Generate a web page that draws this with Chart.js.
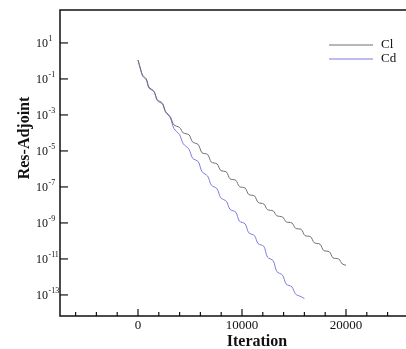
<!DOCTYPE html>
<html>
<head>
<meta charset="utf-8">
<script src="https://cdn.jsdelivr.net/npm/chart.js@4"></script>
<style>
  html, body { margin: 0; padding: 0; background: #fff; }
  canvas { display: block; }
</style>
</head>
<body>
<canvas id="myChart" width="406" height="349"></canvas>
<script>
// iterations and log10(residual)
var clIter = [0, 250, 450, 800, 1050, 1550, 1850, 2350, 2650, 3100, 3450, 4000, 4350, 4900, 5250, 5800,
  6150, 6700, 7050, 7600, 7950, 8500, 8850, 9400, 9750, 10300, 10650, 11200, 11550, 12100, 12450, 13000,
  13350, 13900, 14250, 14800, 15150, 15700, 16050, 16600, 16950, 17500, 17850, 18400, 18750, 19300, 19650, 20000];
var clLog = [0.05, -0.45, -0.8, -1.0, -1.45, -1.7, -2.15, -2.35, -2.8, -3.1, -3.55, -3.7, -4.0, -4.1, -4.5, -4.65,
  -5.1, -5.2, -5.62, -5.72, -6.08, -6.17, -6.55, -6.63, -6.98, -7.06, -7.42, -7.5, -7.86, -7.95, -8.26, -8.33,
  -8.6, -8.67, -8.94, -9.0, -9.3, -9.36, -9.7, -9.77, -10.1, -10.18, -10.53, -10.6, -10.94, -11.0, -11.28, -11.35];

var cdIter = [0, 250, 450, 800, 1050, 1550, 1850, 2350, 2650, 3100, 3450, 4000, 4350, 4900, 5250, 5800,
  6150, 6700, 7050, 7600, 7950, 8500, 8850, 9400, 9750, 10300, 10650, 11200, 11550, 12100, 12450, 13000,
  13350, 13900, 14250, 14800, 15150, 15700, 16000];
var cdLog = [0.05, -0.5, -0.85, -1.05, -1.5, -1.72, -2.2, -2.4, -2.85, -3.15, -3.75, -4.1, -4.6, -4.9, -5.4, -5.6,
  -6.15, -6.4, -6.9, -7.1, -7.6, -7.8, -8.25, -8.4, -8.9, -9.05, -9.55, -9.7, -10.15, -10.3, -10.9, -11.1,
  -11.7, -11.9, -12.4, -12.55, -12.95, -13.1, -13.2];

var seriesNames = ['Cl', 'Cd'];
var xMajorTicks = [0, 10000, 20000];
var yTickExps = [1, -1, -3, -5, -7, -9, -11, -13];

function toPoints(xs, ls) {
  var out = [];
  for (var i = 0; i < xs.length; i++) out.push({x: xs[i], y: Math.pow(10, ls[i])});
  return out;
}

var SERIF = '"Liberation Serif", "DejaVu Serif", serif';
var colors = ['#6e6e6e', '#7a7ae0'];

var framePlugin = {
  id: 'frame',
  afterDraw: function (chart) {
    var ctx = chart.ctx, a = chart.chartArea;
    var xs = chart.scales.x, ys = chart.scales.y;
    ctx.save();
    ctx.strokeStyle = '#111';
    ctx.lineWidth = 1.5;
    ctx.beginPath();
    ctx.moveTo(a.right + 2, a.top);
    ctx.lineTo(a.left, a.top);
    ctx.lineTo(a.left, a.bottom);
    ctx.lineTo(a.right + 2, a.bottom);
    ctx.stroke();

    // x ticks (inward)
    ctx.lineWidth = 1.2;
    for (var v = -6000; v <= 26000; v += 2000) {
      var px = xs.getPixelForValue(v);
      if (px < a.left || px > a.right) continue;
      var len = (v % 10000 === 0) ? 7 : 4;
      ctx.beginPath();
      ctx.moveTo(px, a.bottom);
      ctx.lineTo(px, a.bottom - len);
      ctx.stroke();
    }
    ctx.fillStyle = '#111';
    ctx.font = '13px ' + SERIF;
    ctx.textAlign = 'center';
    ctx.textBaseline = 'middle';
    xMajorTicks.forEach(function (t) {
      ctx.fillText(String(t), xs.getPixelForValue(t), 326);
    });

    // y ticks and labels
    yTickExps.forEach(function (e) {
      var py = ys.getPixelForValue(Math.pow(10, e));
      ctx.beginPath();
      ctx.moveTo(a.left, py);
      ctx.lineTo(a.left + 8, py);
      ctx.stroke();
      ctx.textAlign = 'left';
      ctx.font = '12px ' + SERIF;
      ctx.fillText('10', 36, py + 1);
      var w = ctx.measureText('10').width;
      ctx.font = '8px ' + SERIF;
      ctx.fillText(e < 0 ? '-' + (-e) : String(e), 36 + w + 0.5, py - 4);
    });

    // axis titles
    ctx.font = 'bold 16px ' + SERIF;
    ctx.textAlign = 'center';
    ctx.fillText('Iteration', 257, 342);
    ctx.save();
    ctx.translate(25, 138);
    ctx.rotate(-Math.PI / 2);
    ctx.fillText('Res-Adjoint', 0, 0);
    ctx.restore();

    // legend
    ctx.font = '13px ' + SERIF;
    ctx.textAlign = 'left';
    var ly = [45, 59];
    for (var i = 0; i < seriesNames.length; i++) {
      ctx.strokeStyle = colors[i];
      ctx.lineWidth = 1;
      ctx.beginPath();
      ctx.moveTo(329, ly[i]);
      ctx.lineTo(373, ly[i]);
      ctx.stroke();
      ctx.fillStyle = '#111';
      ctx.fillText(seriesNames[i], 381, ly[i]);
    }
    ctx.restore();
  }
};

var CHART = document.getElementById('myChart');
var myChart = new Chart(CHART, {
  type: 'line',
  data: {
    datasets: [{
      label: seriesNames[0],
      data: toPoints(clIter, clLog),
      borderColor: colors[0],
      borderWidth: 1,
      pointRadius: 0,
      tension: 0.3,
      fill: false
    }, {
      label: seriesNames[1],
      data: toPoints(cdIter, cdLog),
      borderColor: colors[1],
      borderWidth: 1,
      pointRadius: 0,
      tension: 0.3,
      fill: false
    }]
  },
  options: {
    responsive: false,
    animation: false,
    layout: { padding: { left: 60, top: 10, right: 0, bottom: 33 } },
    plugins: { legend: { display: false }, tooltip: { enabled: false } },
    scales: {
      x: { type: 'linear', min: -7500, max: 25770, display: false },
      y: { type: 'logarithmic', min: 6.76e-15, max: 676, display: false }
    }
  },
  plugins: [framePlugin]
});
</script>
</body>
</html>
